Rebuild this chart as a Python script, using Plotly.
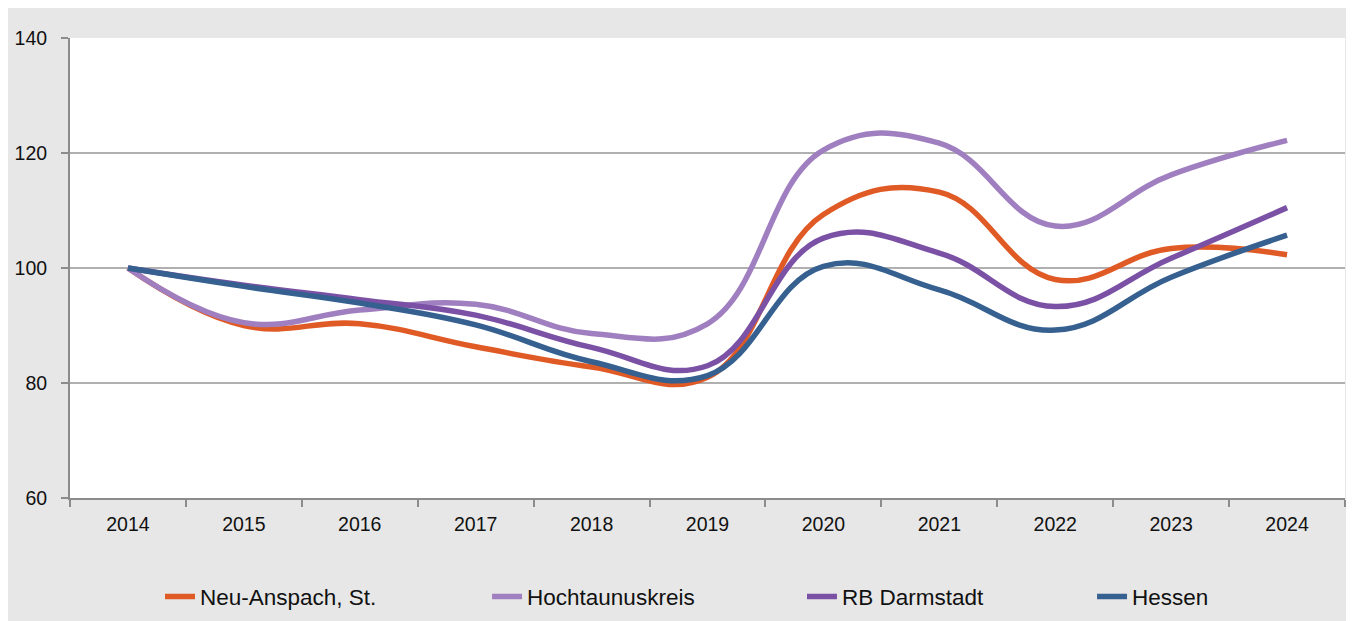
import plotly.graph_objects as go

years = ["2014", "2015", "2016", "2017", "2018", "2019", "2020", "2021", "2022", "2023", "2024"]
neu_anspach = [100, 90.0, 90.3, 86.3, 82.8, 81.0, 109.3, 113.2, 98.0, 103.4, 102.3]
hochtaunus = [100, 90.5, 92.7, 93.7, 88.6, 90.3, 120.5, 121.7, 107.3, 116.2, 122.2]
rb_darmstadt = [100, 97.0, 94.5, 91.8, 86.2, 83.0, 105.2, 102.6, 93.3, 101.7, 110.5]
hessen = [100, 96.8, 93.9, 90.1, 83.7, 81.3, 100.3, 96.2, 89.2, 98.4, 105.7]

names = ["Neu-Anspach, St.", "Hochtaunuskreis", "RB Darmstadt", "Hessen"]
series = [neu_anspach, hochtaunus, rb_darmstadt, hessen]
colors = ["#E05A26", "#A07FC0", "#7B51A5", "#35608F"]
legend_ids = ["legend", "legend2", "legend3", "legend4"]
legend_x = [0.0706, 0.3271, 0.5741, 0.8016]

FONT = "Liberation Sans, Arial, sans-serif"

fig = go.Figure()
for name, vals, col, lid in zip(names, series, colors, legend_ids):
    fig.add_trace(go.Scatter(
        x=years, y=vals, name=name, mode="lines",
        line=dict(color=col, width=5.5, shape="spline", smoothing=1.2),
        legend=lid,
    ))

legend_common = dict(orientation="h", yanchor="middle", xanchor="left",
                     bgcolor="rgba(0,0,0,0)", font=dict(family=FONT, size=22.5, color="#111"))
layout_legends = {}
for lid, lx in zip(legend_ids, legend_x):
    layout_legends[lid] = dict(x=lx, y=-0.2152, **legend_common)

fig.update_layout(
    width=1346, height=613,
    margin=dict(l=62, r=9, t=30, b=123, autoexpand=False),
    paper_bgcolor="#E7E7E7",
    plot_bgcolor="#FFFFFF",
    font=dict(family=FONT, size=19.5, color="#111"),
    showlegend=True,
    xaxis=dict(
        type="category", tickson="boundaries", ticks="outside", ticklen=7,
        tickcolor="#8C8C8C", tickwidth=2, showline=True, linecolor="#8C8C8C", linewidth=2,
        showgrid=False, tickfont=dict(family=FONT, size=19.5, color="#111"),
        range=[-0.5, 10.5], ticklabelstandoff=8,
    ),
    yaxis=dict(
        range=[60, 140], tickvals=[60, 80, 100, 120, 140], ticks="outside", ticklen=7,
        tickcolor="#8C8C8C", tickwidth=2, showline=True, linecolor="#8C8C8C", linewidth=2,
        showgrid=True, gridcolor="#B0B0B0", gridwidth=1.5, zeroline=False,
        tickfont=dict(family=FONT, size=19.5, color="#111"), ticklabelstandoff=10,
    ),
    **layout_legends,
)

fig.write_html("out.html")
